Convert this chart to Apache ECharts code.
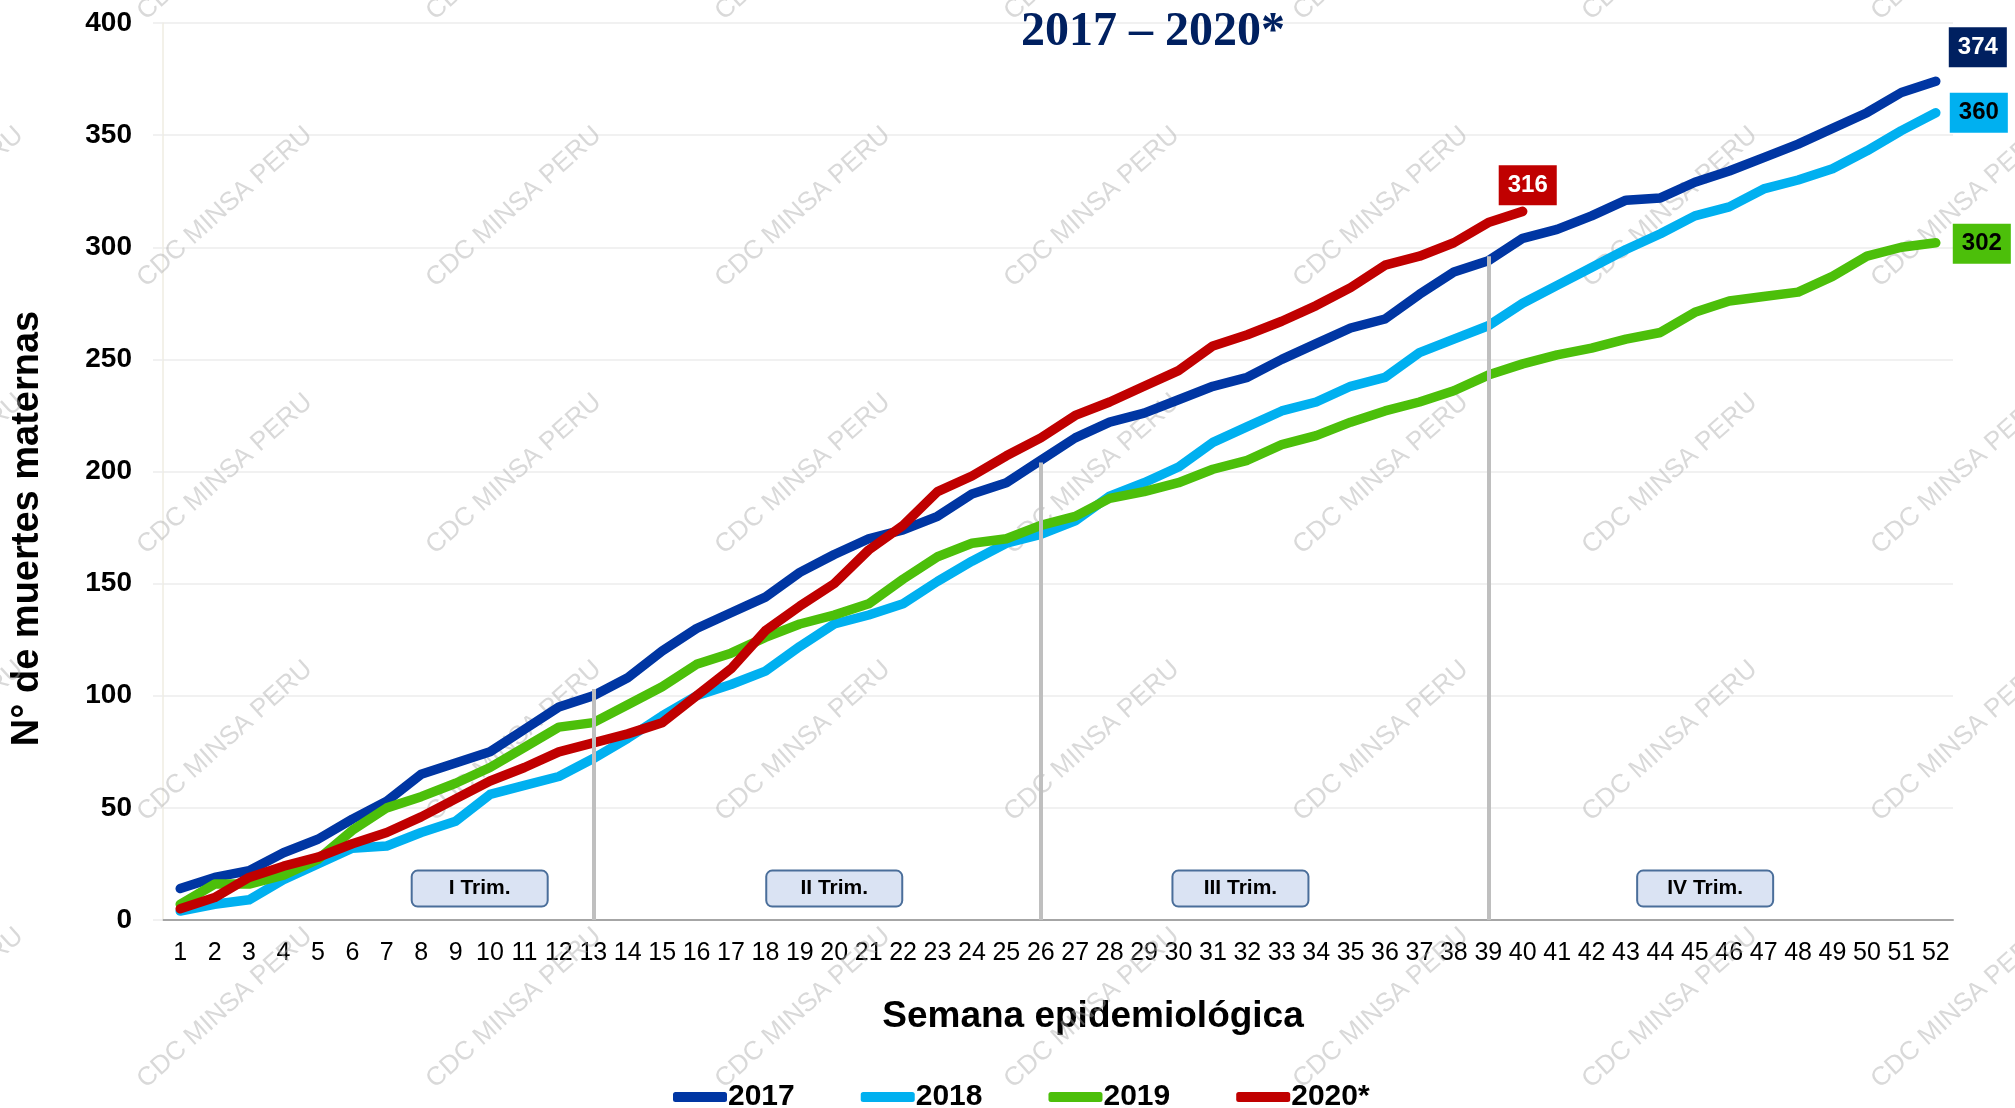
<!DOCTYPE html>
<html>
<head>
<meta charset="utf-8">
<script src="https://cdn.jsdelivr.net/npm/echarts@6/dist/echarts.min.js"></script>
<style>
  html, body { margin: 0; padding: 0; background: #fff; }
  #chart { width: 2015px; height: 1108px; }
</style>
</head>
<body>
<div id="chart"></div>
<script>
const weeks = ['1','2','3','4','5','6','7','8','9','10','11','12','13','14','15','16','17','18','19','20',
  '21','22','23','24','25','26','27','28','29','30','31','32','33','34','35','36','37','38','39','40',
  '41','42','43','44','45','46','47','48','49','50','51','52']

const deaths2017 = [14,19,22,30,36,45,53,65,70,75,85,95,100,108,120,130,137,144,155,163,170,174,180,190,195,205,
  215,222,226,232,238,242,250,257,264,268,279,289,294,304,308,314,321,322,329,334,340,346,353,360,369,374]
const deaths2018 = [4,7,9,18,25,32,33,39,44,56,60,64,72,81,91,100,105,111,122,132,136,141,151,160,168,172,
  178,189,195,202,213,220,227,231,238,242,253,259,265,275,283,291,299,306,314,318,326,330,335,343,352,360]
const deaths2019 = [7,16,16,20,27,40,50,55,61,68,77,86,88,96,104,114,119,126,132,136,141,152,162,168,170,176,
  180,188,191,195,201,205,212,216,222,227,231,236,243,248,252,255,259,262,271,276,278,280,287,296,300,302]
const deaths2020 = [5,10,19,24,28,34,39,46,54,62,68,75,79,83,88,100,112,129,140,150,165,176,191,198,207,215,
  225,231,238,245,256,261,267,274,282,292,296,302,311,316]

// trimestres
const trimWeeks = ['13', '26', '39']
const trimTops = [103, 204, 296]
const trimLabels = ['I Trim.', 'II Trim.', 'III Trim.', 'IV Trim.']
const trimCenters = [9.7, 20, 31.8, 45.3]   // posición en semanas
const trimY = 14

const FONT = '"Liberation Sans", Arial, sans-serif'
const chart = echarts.init(document.getElementById('chart'))

const mkSeries = (name, data, color, lbl) => ({
    name,
    type: 'line',
    data,
    symbol: 'none',
    showSymbol: false,
    lineStyle: { color, width: 9.5, cap: 'round', join: 'round' },
    itemStyle: { color },
    endLabel: {
        show: true,
        formatter: p => p.value,
        distance: 0,
        fontFamily: FONT,
        fontWeight: 'bold',
        fontSize: 24,
        padding: [9, 9, 7, 9],
        ...lbl
    }
})

const s2017 = mkSeries('2017', deaths2017, '#0036A3', { backgroundColor: '#002060', color: '#fff', offset: [13, -34] })
s2017.markLine = {
    silent: true,
    symbol: 'none',
    label: { show: false },
    lineStyle: { color: '#BFBFBF', width: 4, type: 'solid' },
    data: trimWeeks.map((w, i) => [{ coord: [w, 0] }, { coord: [w, trimTops[i]] }])
}

chart.setOption({
    animation: false,
    tooltip: { show: false },
    grid: { left: 163, right: 62, top: 23, bottom: 188 },
    legend: {
        data: ['2017', '2018', '2019', '2020*'],
        left: 668,
        top: 1077,
        icon: 'roundRect',
        itemWidth: 54,
        itemHeight: 10,
        itemGap: 66,
        selectedMode: false,
        textStyle: { fontFamily: FONT, fontWeight: 'bold', fontSize: 30, color: '#000', padding: [0, 0, 0, -4] }
    },
    xAxis: {
        type: 'category',
        data: weeks,
        boundaryGap: true,
        axisTick: { show: false },
        axisLine: { lineStyle: { color: '#A6A6A6', width: 2 } },
        axisLabel: { interval: 0, fontFamily: FONT, fontSize: 25, color: '#000', margin: 21 },
        name: 'Semana epidemiológica',
        nameLocation: 'middle',
        nameGap: 78,
        nameTextStyle: { fontFamily: FONT, fontWeight: 'bold', fontSize: 37, color: '#000', padding: [0, 0, 0, 70] }
    },
    yAxis: {
        type: 'value',
        min: 0,
        max: 400,
        interval: 50,
        axisLine: { show: true, lineStyle: { color: '#EFEDE2', width: 1.5 } },
        axisTick: { show: true, length: 10, lineStyle: { color: '#EDEDED', width: 1.5 } },
        splitLine: { lineStyle: { color: '#EDEDED', width: 1.5 } },
        axisLabel: { fontFamily: FONT, fontWeight: 'bold', fontSize: 28, color: '#000', margin: 31 },
        name: 'N° de muertes maternas',
        nameLocation: 'middle',
        nameRotate: 90,
        nameGap: 116,
        nameTextStyle: { fontFamily: FONT, fontWeight: 'bold', fontSize: 38, color: '#000', padding: [0, 114, 0, 0] }
    },
    series: [
        s2017,
        mkSeries('2018', deaths2018, '#00B0F0', { backgroundColor: '#00B0F0', color: '#000', offset: [14, 0] }),
        mkSeries('2019', deaths2019, '#4CBF0A', { backgroundColor: '#4CBF0A', color: '#000', offset: [17, 1] }),
        mkSeries('2020*', deaths2020, '#C00000', { backgroundColor: '#C00000', color: '#fff', offset: [-24, -26] })
    ]
})

// posición en pixeles de una semana (puede ser fraccionaria)
const px = (w, v) => {
    const a = Math.floor(w), f = w - a
    const p0 = chart.convertToPixel({ gridIndex: 0 }, [a - 1, v])
    const p1 = chart.convertToPixel({ gridIndex: 0 }, [a, v])
    return [p0[0] + f * (p1[0] - p0[0]), p0[1]]
}

// marca de agua
const wmCols = [-64, 225, 514, 803, 1092, 1381, 1670, 1959]
const wmRows = [-60, 207, 474, 741, 1008]
const watermark = []
wmRows.forEach(y => wmCols.forEach(x => {
    watermark.push({
        type: 'text', x, y, rotation: 42 * Math.PI / 180, z: 1, silent: true,
        style: {
            text: 'CDC MINSA PERU', fontFamily: FONT, fontSize: 26,
            fill: 'rgba(170,170,170,0.45)', align: 'center', verticalAlign: 'middle'
        }
    })
}))

const trimBoxes = trimLabels.map((t, i) => {
    const [x, y] = px(trimCenters[i], trimY)
    return {
        type: 'group', x, y, z: 10,
        children: [
            { type: 'rect', shape: { x: -68, y: -18, width: 136, height: 36, r: 6 },
              style: { fill: '#DAE3F3', stroke: '#4A6E9A', lineWidth: 2 } },
            { type: 'text', style: { text: t, fontFamily: FONT, fontWeight: 'bold', fontSize: 21,
              fill: '#000', align: 'center', verticalAlign: 'middle' } }
        ]
    }
})

chart.setOption({
    graphic: [
        ...watermark,
        { type: 'text', x: 1153, y: 33, z: 10,
          style: { text: '2017 – 2020*', fontFamily: '"Liberation Serif", "Times New Roman", serif',
                   fontWeight: 'bold', fontSize: 48, fill: '#002060', align: 'center', verticalAlign: 'middle' } },
        ...trimBoxes
    ]
})
</script>
</body>
</html>
